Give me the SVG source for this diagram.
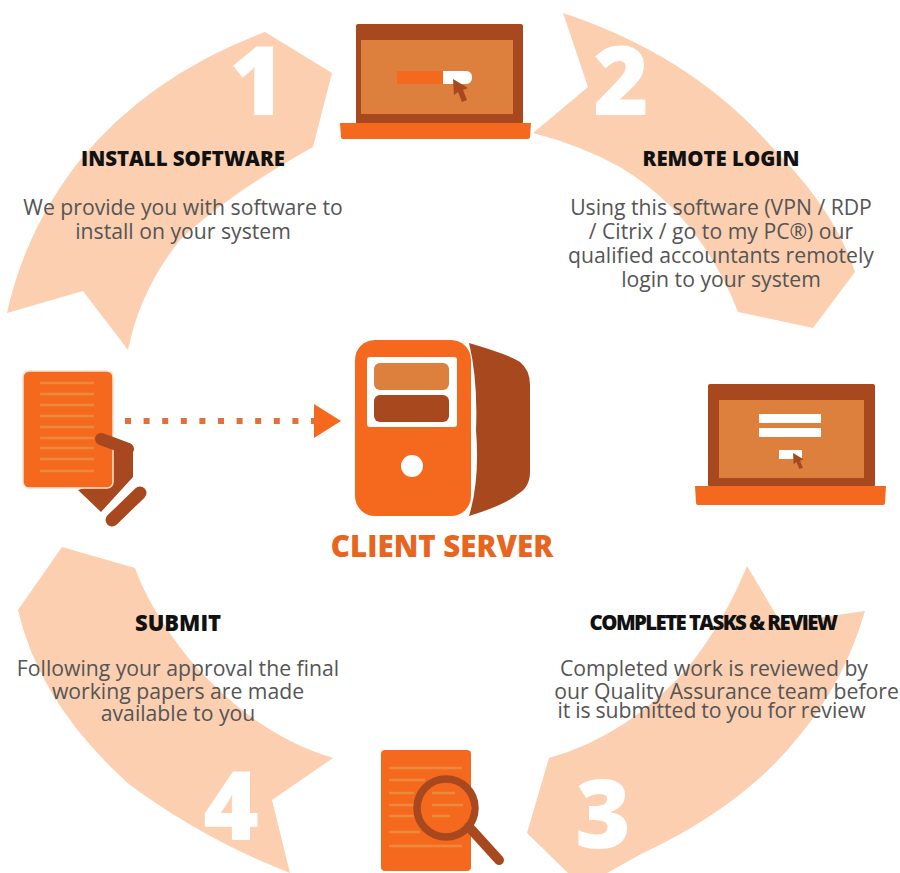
<svg xmlns="http://www.w3.org/2000/svg" width="900" height="873" viewBox="0 0 900 873">
<style>
.peach{fill:#fbcfb0}
.or{fill:#f5691e}
.br{fill:#a8481f}
.lt{fill:#dd7f3d}
.wh{fill:#fff}
.num{font-family:"Open Sans",sans-serif;font-weight:800;font-size:95px;fill:#fff;text-anchor:middle}
.ttl{font-family:"Open Sans",sans-serif;font-weight:800;font-size:20.400px;fill:#111;text-anchor:middle}
.txt{font-family:"Open Sans",sans-serif;font-weight:500;font-size:21.200px;fill:#555;text-anchor:middle}
.ln{stroke:#ea8a3c;stroke-width:2.500;fill:none}
</style>
<defs>
<marker id="head" markerUnits="userSpaceOnUse" markerWidth="27" markerHeight="34" refX="0" refY="17" orient="auto"><path d="M0 0L27 17L0 34Z" fill="#f5691e"/></marker>
<path id="cursor" d="M0 0L15 9L10 11L14 21L9 23L5 13L1 16Z" fill="#a8481f"/>
</defs>
<g id="step-1">
<path class="peach" d="M265 32L332 73L313 147Q227 195 180 240Q140 290 128 350L83 291L7 313Q25 230 80 160Q150 75 265 32Z"/>
<text class="num" x="257" y="115">1</text>
<text class="ttl" x="183" y="166">INSTALL SOFTWARE</text>
<text class="txt" x="183" y="215">We provide you with software to</text>
<text class="txt" x="183" y="239">install on your system</text>
</g>
<g id="step-2">
<path class="peach" d="M563 13Q690 55 770 145Q835 210 855 272L813 328L738 312Q700 215 620 167Q580 145 533 133L588 87Z"/>
<text class="num" x="621" y="115">2</text>
<text class="ttl" x="721" y="166">REMOTE LOGIN</text>
<text class="txt" x="721" y="215">Using this software (VPN / RDP</text>
<text class="txt" x="721" y="239">/ Citrix / go to my PC®) our</text>
<text class="txt" x="721" y="263">qualified accountants remotely</text>
<text class="txt" x="721" y="287">login to your system</text>
</g>
<g id="step-3">
<path class="peach" d="M747 566L781 623L865 611Q845 680 800 735Q745 805 643 853L607 873H568L527 833L549 758Q630 735 690 665Q725 620 747 566Z"/>
<text class="num" x="603" y="848">3</text>
<text class="ttl" x="713" y="630" letter-spacing="-1.600">COMPLETE TASKS &amp; REVIEW</text>
<text class="txt" x="714" y="676">Completed work is reviewed by</text>
<text class="txt" x="726.500" y="699">our Quality Assurance team before</text>
<text class="txt" x="711.500" y="718" word-spacing="-.7">it is submitted to you for review</text>
</g>
<g id="step-4">
<path class="peach" d="M62 547L135 568Q150 610 190 660Q255 735 333 758L272 800L290 873Q205 840 130 785Q40 705 18 610Z"/>
<text class="num" x="231" y="840">4</text>
<text class="ttl" x="178" y="631" style="font-size:22px">SUBMIT</text>
<text class="txt" x="178" y="676">Following your approval the final</text>
<text class="txt" x="178" y="699">working papers are made</text>
<text class="txt" x="178" y="721">available to you</text>
</g>
<g id="connectors">
<line x1="125" y1="421" x2="314" y2="421" stroke="#e2703a" stroke-width="6" stroke-dasharray="6 12.600" marker-end="url(#head)"/>
</g>
<g id="laptop-install">
<rect class="br" x="356" y="24" width="167" height="100" rx="2"/>
<rect class="lt" x="361" y="40" width="152" height="74"/>
<path class="or" d="M340 123H531L530 137Q530 139 528 139H343Q341 139 341 137Z"/>
<rect class="or" x="397" y="71" width="46" height="13"/>
<path class="wh" d="M443 71H466Q472 71 472 77.500Q472 84 466 84H443Z"/>
<use href="#cursor" x="453" y="79"/>
</g>
<g id="laptop-login">
<rect class="br" x="708" y="384" width="167" height="103" rx="2"/>
<rect class="lt" x="719" y="400" width="145" height="78"/>
<path class="or" d="M695 486H886L885 503Q885 505 883 505H698Q696 505 696 503Z"/>
<rect class="wh" x="759" y="414" width="62" height="9"/>
<rect class="wh" x="759" y="428" width="62" height="9"/>
<rect class="wh" x="779" y="450" width="23" height="9"/>
<use href="#cursor" transform="translate(793 453) scale(.7)"/>
</g>
<g id="client-server">
<path class="br" d="M469 343Q510 355 520 362Q530 370 530 385V472Q530 487 518 494Q505 505 469 516Q480 480 476 430Q478 380 469 343Z"/>
<rect class="or" x="355" y="340" width="116" height="176" rx="20"/>
<rect class="wh" x="367" y="357" width="90" height="70" rx="3"/>
<rect class="lt" x="374" y="363" width="75" height="27" rx="6"/>
<rect class="br" x="374" y="395" width="75" height="27" rx="6"/>
<circle class="wh" cx="412" cy="466" r="11"/>
<text x="442" y="557" font-family="'Open Sans',sans-serif" font-weight="800" font-size="29.500" fill="#e8651f" text-anchor="middle">CLIENT SERVER</text>
</g>
<g id="document-hand">
<path class="br" d="M110 436L130 444Q133 446 133 450V477L101 512L78 490L110 480Z"/>
<rect class="or" x="23" y="371" width="90" height="117" rx="6" stroke="#fde3d0" stroke-width="1.500"/>
<path class="ln" d="M40 383H94M40 394H94M40 405H94M40 416H94M40 427H94M40 438H94M40 448H94M40 459H94M40 471H94"/>
<path d="M101 439L128 449" stroke="#a8481f" stroke-width="12" stroke-linecap="round" fill="none"/>
<path d="M112 520L140 493" stroke="#a8481f" stroke-width="13" stroke-linecap="round" fill="none"/>
</g>
<g id="document-review">
<rect class="or" x="381" y="750" width="90" height="121" rx="4"/>
<path class="ln" d="M389 768H462M389 780H425M389 793H414M389 805H414M389 816H414M389 832H420M389 846H462M432 793H455M432 805H463M432 816H450"/>
<circle cx="446" cy="808" r="29" fill="none" stroke="#a8481f" stroke-width="7.500"/>
<path d="M469 827L499 860" stroke="#a8481f" stroke-width="10" stroke-linecap="round" fill="none"/>
</g>
</svg>
